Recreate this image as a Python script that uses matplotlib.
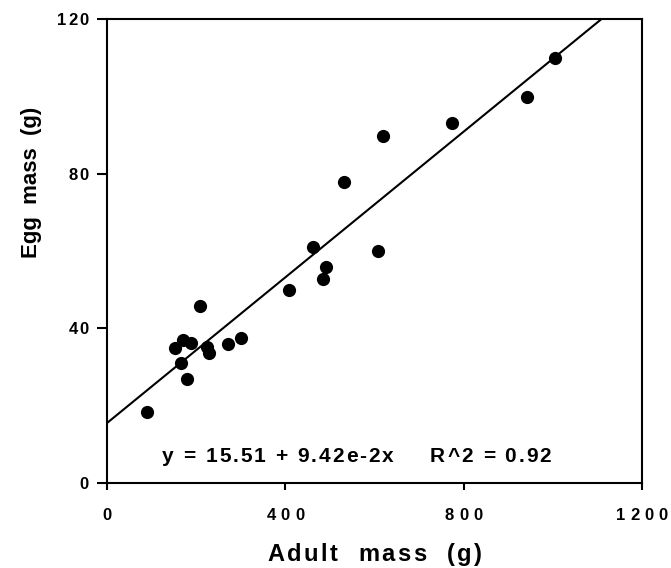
import numpy as np
import matplotlib
matplotlib.use("Agg")
import matplotlib.pyplot as plt
from matplotlib import font_manager
from matplotlib.ft2font import FT2Font
from matplotlib.transforms import offset_copy, blended_transform_factory

# ---- data -------------------------------------------------------------
adult_mass = [89, 152.5, 169.8, 187.7, 165.3, 178.7, 208.6, 223.6, 228.8,
              272, 300, 408, 461, 491, 485, 532, 620, 608.6, 773, 941, 1005]
egg_mass = [18.3, 34.8, 37.0, 36.1, 31.0, 26.8, 45.8, 35.1, 33.7,
            35.9, 37.6, 49.9, 61.1, 55.9, 52.7, 77.8, 89.7, 60.0, 93.0, 99.7, 109.8]

fit_intercept = 15.51
fit_slope = 9.42e-2
fit_r2 = 0.92

x_ticks = [0, 400, 800, 1200]
y_ticks = [0, 40, 80, 120]
x_label = "Adult  mass  (g)"
y_label = "Egg  mass  (g)"

# ---- figure -----------------------------------------------------------
W, H = 671, 568
fig = plt.figure(figsize=(W / 100, H / 100), dpi=100)
ax = fig.add_axes([107 / W, 1 - 483 / H, 535 / W, 464 / H])
ax.set_xlim(0, 1200)
ax.set_ylim(0, 120)

BOLD = font_manager.FontProperties(family="Liberation Sans", weight="bold")
FONT_PATH = font_manager.findfont(BOLD)


def advances(s, size):
    """Horizontal advance of each character, in points."""
    ft = FT2Font(FONT_PATH)
    ft.set_size(size, 72)
    return [ft.load_char(ord(c)).linearHoriAdvance / 65536.0 for c in s]


def tracked(base, x, y, s, size, track, ha="left", rotation=0, shift=0.0):
    """Draw a string letter by letter with extra spacing (points) between glyphs."""
    adv = advances(s, size)
    total = sum(adv) + track * (len(s) - 1)
    pos = {"left": 0.0, "center": -total / 2, "right": -total}[ha]
    for ch, a in zip(s, adv):
        if ch != " ":
            if rotation == 0:
                dx, dy = pos, shift
            else:
                dx, dy = -shift, pos
            tr = offset_copy(base, fig=fig, x=dx, y=dy, units="points")
            fig.text(x, y, ch, transform=tr, fontproperties=BOLD, size=size,
                     ha="left", va="baseline", rotation=rotation,
                     rotation_mode="anchor", color="black")
        pos += a + track


# scatter and fitted line
ax.plot(adult_mass, egg_mass, "o", color="black", ms=9.5, mew=0, zorder=3)
line_x = np.array([0, 1200])
ax.plot(line_x, fit_intercept + fit_slope * line_x, color="black", lw=1.5)

# frame and ticks
for sp in ax.spines.values():
    sp.set_linewidth(1.5)
ax.set_xticks(x_ticks)
ax.set_yticks(y_ticks)
ax.set_xticklabels([])
ax.set_yticklabels([])
ax.tick_params(axis="x", direction="out", length=5, width=1.5)
ax.tick_params(axis="y", direction="out", length=7, width=1.5)

# tick labels
tick_size = 12
cap = 0.716 * tick_size
xt = blended_transform_factory(ax.transData, fig.transFigure)
for v in x_ticks:
    tracked(xt, v, 1 - 520 / H, str(v), tick_size, 3.6, ha="center")
yt = blended_transform_factory(fig.transFigure, ax.transData)
for v in y_ticks:
    tracked(yt, 89 / W, v, str(v), tick_size, 1.5, ha="right", shift=-cap / 2)

# axis titles
tracked(xt, 600, 1 - 561 / H, x_label, 17, 1.8, ha="center")
fig.text(37 / W, 1 - 182 / H, y_label, fontproperties=BOLD, size=16,
         rotation=90, rotation_mode="anchor", ha="center", va="baseline")

# regression annotation
eq = f"y = {fit_intercept:.2f} + {fit_slope * 100:.2f}e-2x"
tracked(fig.transFigure, 162 / W, 1 - 462 / H, eq, 15, 1.45, ha="left")
tracked(fig.transFigure, 430 / W, 1 - 462 / H, f"R^2 = {fit_r2:.2f}", 15, 1.45, ha="left")

fig.savefig("out.png", dpi=100)
